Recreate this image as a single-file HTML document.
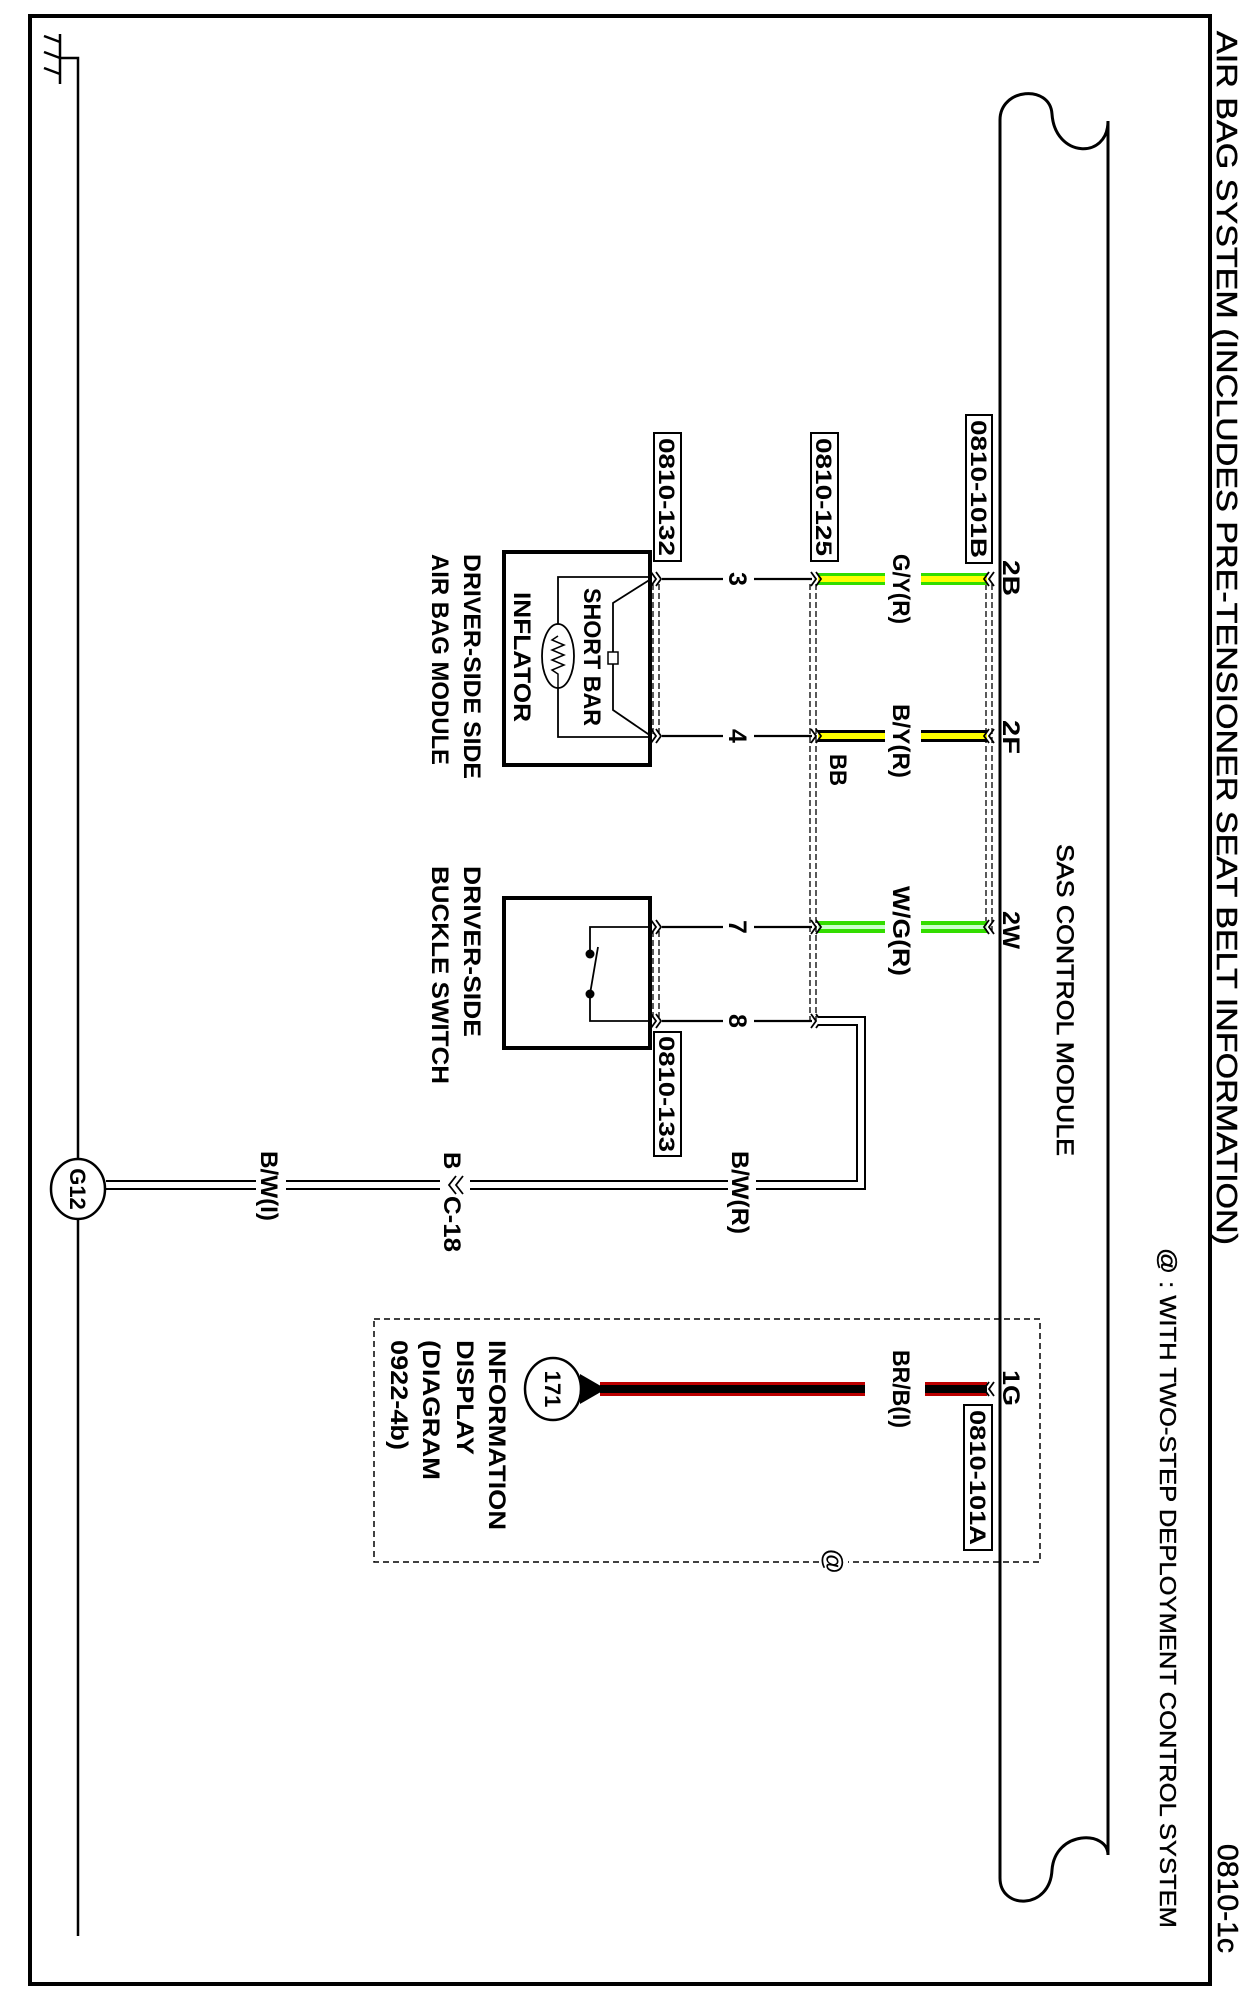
<!DOCTYPE html>
<html><head><meta charset="utf-8"><style>
html,body{margin:0;padding:0;background:#fff}
svg{display:block}
text{font-family:"Liberation Sans",Arial,sans-serif;fill:#000}
.b{font-weight:bold}
</style></head><body>
<svg width="1244" height="1998" viewBox="0 0 1244 1998" xmlns="http://www.w3.org/2000/svg">
<rect x="30" y="16" width="1180" height="1968" fill="none" stroke="#000" stroke-width="4"/>

<text transform="translate(1217,31) rotate(90)" font-size="29" textLength="1214" lengthAdjust="spacingAndGlyphs" stroke="#000" stroke-width="0.5">AIR BAG SYSTEM (INCLUDES PRE-TENSIONER SEAT BELT INFORMATION)</text>
<text transform="translate(1218,1844) rotate(90)" font-size="29" textLength="109" lengthAdjust="spacingAndGlyphs" stroke="#000" stroke-width="0.5">0810-1c</text>
<text transform="translate(1160,1248) rotate(90)" font-size="23" textLength="680" lengthAdjust="spacingAndGlyphs" stroke="#000" stroke-width="0.4">@ : WITH TWO-STEP DEPLOYMENT CONTROL SYSTEM</text>

<path d="M1000,1878 V120 C1000,88 1050,84 1052,114 C1055,158 1108,160 1108,121 V1855 C1108,1830 1055,1830 1052,1870 C1050,1910 1000,1910 1000,1878" fill="none" stroke="#000" stroke-width="3"/>
<text transform="translate(1057,844) rotate(90)" font-size="24" textLength="312" lengthAdjust="spacingAndGlyphs" stroke="#000" stroke-width="0.6">SAS CONTROL MODULE</text>

<path d="M60,58 H78 V1936" fill="none" stroke="#000" stroke-width="2.5"/>
<path d="M60,34 V84 M60,42 L44,36 M60,58 L44,52 M60,74 L44,68" fill="none" stroke="#000" stroke-width="2.5"/>

<g stroke="#000" stroke-width="1.3" stroke-dasharray="6,3" fill="none">
<path d="M986,584 V931 M992,584 V931"/>
<path d="M810,584 V1021 M816,584 V1021"/>
<path d="M653,584 V737 M659,584 V737"/>
<path d="M653,931 V1021 M659,931 V1021"/>
</g>

<g stroke="#000" stroke-width="2.2" fill="none">
<path d="M662,579 H723 M754,579 H812"/>
<path d="M662,736 H723 M754,736 H812"/>
<path d="M662,927 H723 M754,927 H812"/>
<path d="M662,1021 H723 M754,1021 H812"/>
</g>
<g font-size="25" text-anchor="middle">
<text class="b" transform="translate(729,579) rotate(90)">3</text>
<text class="b" transform="translate(729,736) rotate(90)">4</text>
<text class="b" transform="translate(729,927) rotate(90)">7</text>
<text class="b" transform="translate(729,1021) rotate(90)">8</text>
</g>

<g>
<rect x="818" y="573" width="67" height="12" fill="#33dd00"/><rect x="818" y="576" width="67" height="6" fill="#ffff00"/>
<rect x="921" y="573" width="66" height="12" fill="#33dd00"/><rect x="921" y="576" width="66" height="6" fill="#ffff00"/>
<rect x="818" y="730" width="67" height="12" fill="#000"/><rect x="818" y="733" width="67" height="6" fill="#ffff00"/>
<rect x="921" y="730" width="66" height="12" fill="#000"/><rect x="921" y="733" width="66" height="6" fill="#ffff00"/>
<rect x="818" y="921" width="67" height="12" fill="#33dd00"/><rect x="818" y="925" width="67" height="4" fill="#ccffcc"/>
<rect x="921" y="921" width="66" height="12" fill="#33dd00"/><rect x="921" y="925" width="66" height="4" fill="#ccffcc"/>
<rect x="600" y="1382" width="265" height="14" fill="#bb0000"/><rect x="600" y="1385" width="265" height="8" fill="#000"/>
<rect x="925" y="1382" width="62" height="14" fill="#bb0000"/><rect x="925" y="1385" width="62" height="8" fill="#000"/>
</g>

<g font-size="24">
<text class="b" transform="translate(893,554) rotate(90)" textLength="70" lengthAdjust="spacingAndGlyphs">G/Y(R)</text>
<text class="b" transform="translate(893,704) rotate(90)" textLength="74" lengthAdjust="spacingAndGlyphs">B/Y(R)</text>
<text class="b" transform="translate(893,886) rotate(90)" textLength="90" lengthAdjust="spacingAndGlyphs">W/G(R)</text>
<text class="b" transform="translate(830,754) rotate(90)" textLength="32" lengthAdjust="spacingAndGlyphs">BB</text>
<text class="b" transform="translate(1003,560) rotate(90)" textLength="36" lengthAdjust="spacingAndGlyphs">2B</text>
<text class="b" transform="translate(1003,720) rotate(90)" textLength="34" lengthAdjust="spacingAndGlyphs">2F</text>
<text class="b" transform="translate(1003,911) rotate(90)" textLength="38" lengthAdjust="spacingAndGlyphs">2W</text>
<text class="b" transform="translate(1003,1370) rotate(90)" textLength="36" lengthAdjust="spacingAndGlyphs">1G</text>
<text class="b" transform="translate(893,1350) rotate(90)" textLength="78" lengthAdjust="spacingAndGlyphs">BR/B(I)</text>
</g>

<g fill="#fff" stroke="#000" stroke-width="2">
<rect x="966" y="415" width="26" height="148"/>
<rect x="811" y="433" width="27" height="128"/>
<rect x="654" y="433" width="27" height="128"/>
<rect x="654" y="1032" width="27" height="124"/>
<rect x="964" y="1405" width="28" height="145"/>
</g>
<g font-size="22">
<text class="b" transform="translate(971,420) rotate(90)" textLength="138" lengthAdjust="spacingAndGlyphs">0810-101B</text>
<text class="b" transform="translate(816,438) rotate(90)" textLength="118" lengthAdjust="spacingAndGlyphs">0810-125</text>
<text class="b" transform="translate(659,438) rotate(90)" textLength="118" lengthAdjust="spacingAndGlyphs">0810-132</text>
<text class="b" transform="translate(659,1036) rotate(90)" textLength="116" lengthAdjust="spacingAndGlyphs">0810-133</text>
<text class="b" transform="translate(970,1410) rotate(90)" textLength="135" lengthAdjust="spacingAndGlyphs">0810-101A</text>
</g>

<g stroke="#000" stroke-width="1.8" fill="none">
<path d="M651,572 L656,579 L651,586 M656,572 L661,579 L656,586"/>
<path d="M651,729 L656,736 L651,743 M656,729 L661,736 L656,743"/>
<path d="M651,920 L656,927 L651,934 M656,920 L661,927 L656,934"/>
<path d="M651,1014 L656,1021 L651,1028 M656,1014 L661,1021 L656,1028"/>
<path d="M811,572 L816,579 L811,586 M816,572 L821,579 L816,586"/>
<path d="M811,729 L816,736 L811,743 M816,729 L821,736 L816,743"/>
<path d="M811,920 L816,927 L811,934 M816,920 L821,927 L816,934"/>
<path d="M811,1014 L816,1021 L811,1028 M816,1014 L821,1021 L816,1028"/>
<path d="M994,572 L989,579 L994,586 M989,572 L984,579 L989,586"/>
<path d="M994,729 L989,736 L994,743 M989,729 L984,736 L989,743"/>
<path d="M994,920 L989,927 L994,934 M989,920 L984,927 L989,934"/>
<path d="M994,1382 L989,1389 L994,1396 M989,1382 L984,1389 L989,1396"/>
</g>

<rect x="504" y="552" width="146" height="213" fill="none" stroke="#000" stroke-width="4"/>
<path d="M651,577 H558 V737 H651" fill="none" stroke="#000" stroke-width="1.8"/>
<path d="M651,579 L613,603 V652 M613,664 V710 L651,736" fill="none" stroke="#000" stroke-width="1.8"/>
<rect x="608" y="652" width="10" height="12" fill="#fff" stroke="#000" stroke-width="1.5"/>
<ellipse cx="558" cy="656" rx="16" ry="32" fill="#fff" stroke="#000" stroke-width="1.8"/>
<path d="M558,636 L552,640 L564,645 L552,650 L564,655 L552,660 L564,665 L552,670 L558,674 V688" fill="none" stroke="#000" stroke-width="1.5"/>
<text class="b" transform="translate(584,588) rotate(90)" font-size="24" textLength="138" lengthAdjust="spacingAndGlyphs">SHORT BAR</text>
<text class="b" transform="translate(514,592) rotate(90)" font-size="24" textLength="130" lengthAdjust="spacingAndGlyphs">INFLATOR</text>
<text class="b" transform="translate(464,554) rotate(90)" font-size="24" textLength="225" lengthAdjust="spacingAndGlyphs">DRIVER-SIDE SIDE</text>
<text class="b" transform="translate(432,554) rotate(90)" font-size="24" textLength="211" lengthAdjust="spacingAndGlyphs">AIR BAG MODULE</text>

<rect x="504" y="898" width="146" height="150" fill="none" stroke="#000" stroke-width="4"/>
<path d="M651,927 H590 V954 M590,994 V1021 H651 M590,994 L598,947" fill="none" stroke="#000" stroke-width="1.8"/>
<circle cx="590" cy="954" r="4.5"/><circle cx="590" cy="994" r="4.5"/>
<text class="b" transform="translate(464,866) rotate(90)" font-size="24" textLength="171" lengthAdjust="spacingAndGlyphs">DRIVER-SIDE</text>
<text class="b" transform="translate(432,866) rotate(90)" font-size="24" textLength="218" lengthAdjust="spacingAndGlyphs">BUCKLE SWITCH</text>

<path d="M818,1021 H861 V1185 H106" fill="none" stroke="#000" stroke-width="10"/>
<path d="M818,1021 H861 V1185 H106" fill="none" stroke="#fff" stroke-width="6"/>
<rect x="728" y="1150" width="28" height="86" fill="#fff"/>
<rect x="256" y="1150" width="30" height="72" fill="#fff"/>
<rect x="440" y="1150" width="30" height="104" fill="#fff"/>
<text class="b" transform="translate(732,1151) rotate(90)" font-size="24" textLength="83" lengthAdjust="spacingAndGlyphs">B/W(R)</text>
<text class="b" transform="translate(261,1151) rotate(90)" font-size="24" textLength="70" lengthAdjust="spacingAndGlyphs">B/W(I)</text>
<text class="b" transform="translate(444,1152) rotate(90)" font-size="24">B</text>
<path d="M463,1176 L456,1185 L463,1194 M456,1176 L449,1185 L456,1194" fill="none" stroke="#000" stroke-width="1.8"/>
<text class="b" transform="translate(444,1196) rotate(90)" font-size="24" textLength="56" lengthAdjust="spacingAndGlyphs">C-18</text>
<ellipse cx="78" cy="1189" rx="27" ry="30" fill="#fff" stroke="#000" stroke-width="2.5"/>
<text class="b" transform="translate(70,1189) rotate(90)" font-size="22" text-anchor="middle">G12</text>

<rect x="374" y="1319" width="666" height="243" fill="none" stroke="#000" stroke-width="1.5" stroke-dasharray="6,4"/>
<rect x="820" y="1546" width="28" height="30" fill="#fff"/>
<text class="b" transform="translate(825,1549) rotate(90)" font-size="25">@</text>
<polygon points="580,1374 580,1404 606,1389" fill="#000"/>
<ellipse cx="553" cy="1389" rx="28" ry="31" fill="#fff" stroke="#000" stroke-width="2.5"/>
<text class="b" transform="translate(545,1389) rotate(90)" font-size="22" text-anchor="middle">171</text>
<g font-size="24">
<text class="b" transform="translate(489,1340) rotate(90)" textLength="190" lengthAdjust="spacingAndGlyphs">INFORMATION</text>
<text class="b" transform="translate(457,1340) rotate(90)" textLength="115" lengthAdjust="spacingAndGlyphs">DISPLAY</text>
<text class="b" transform="translate(423,1340) rotate(90)" textLength="140" lengthAdjust="spacingAndGlyphs">(DIAGRAM</text>
<text class="b" transform="translate(391,1340) rotate(90)" textLength="110" lengthAdjust="spacingAndGlyphs">0922-4b)</text>
</g>
</svg>
</body></html>
